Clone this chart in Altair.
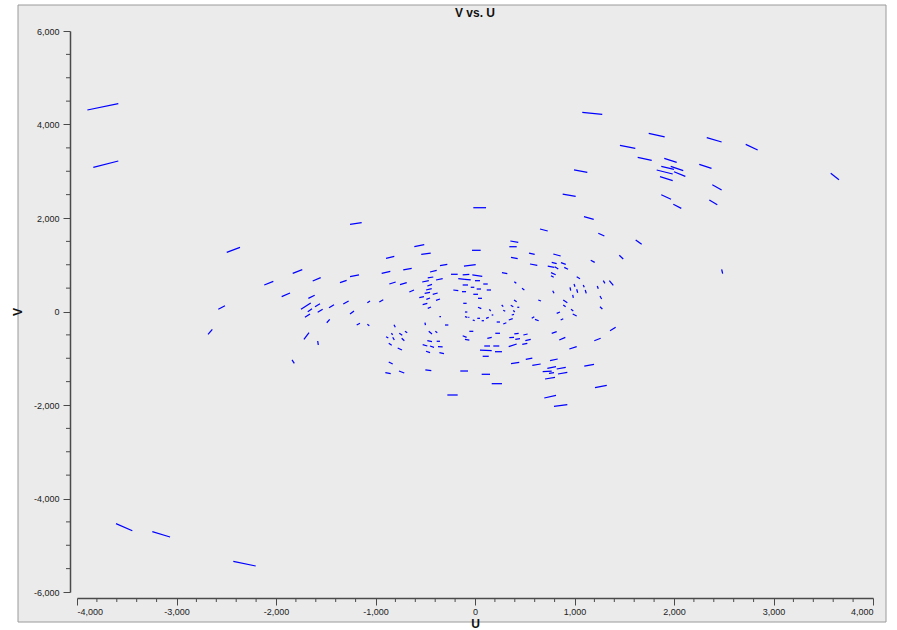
import altair as alt
import pandas as pd

# Baseline track segments in the (U, V) plane: start point (u0, v0) -> end point (u1, v1)
u0 = [-3896, -3836, -3608, -3243, -2429, 1078, 1746, 2329, 2721, 1457, 1635, 1902, 2254, 1872, 1967,
      1826, 2000, 1859, 995, 2385, 3575, 881, 1872, 2355, 1993, 1095, 1239, 1615, 1450, 1163, 2479,
      -17, -1256, -610, 355, 345, 653, -30, -894, -540, 362, 543, 787, -1256, -938, -721, -452, -352,
      -111, 553, 731, 771, 864, 801, 897, 764, 764, 271, 1022, -2495, -1832, -2118, -1631, -1357,
      -1943, -1675, -2580, -1749, -1608, -1681, -1581, -1467, -1324, -1709, -1256, -1490, -2683,
      -1719, -1581, -1839, -1189, -1082, -962, -861, -754, -660, -531, -475, -392, -479, -492, -506,
      -425, -560, -489, -392, -526, -475, -241, -124, -27, -168, -101, 0, 83, -124, -43, 17, 118,
      -218, -131, -17, 30, -118, 30, 144, 268, 359, 425, 284, 385, 392, 636, -101, -101, -67, -23,
      23, 67, 111, 168, 218, 284, 339, 369, 570, 603, -358, -302, -503, -1082, -814, 955, 995, 1022,
      1088, 1108, 1229, 1289, 1350, 1256, 982, 887, 887, 965, 982, 861, 781, 1256, 821, 395, 472,
      -894, -841, -761, -704, -827, -737, -867, -777, -465, -399, -479, -385, -526, -452, -372, -492,
      -358, -867, -901, -764, -499, -148, -278, 67, 168, -124, -101, -57, 124, 204, 93, 184, 50, 201,
      77, 345, 395, 405, 339, 475, 486, 506, 771, 847, 948, 1199, 1357, 362, 510, 576, 754, 727, 821,
      680, 744, 834, 704, 1098, 1206, 696, 794]
v0 = [4310, 3084, -4539, -4710, -5343, 4261, 3812, 3718, 3576, 3555, 3298, 3277, 3149, 3106, 3106,
      3027, 2990, 2883, 3027, 2712, 2956, 2513, 2498, 2385, 2293, 2028, 1673, 1529, 1202, 1095, 903,
      2220, 1865, 1386, 1508, 1386, 1765, 1309, 1138, 1224, 1159, 1251, 1230, 744, 817, 888, 845, 980,
      973, 1016, 973, 1052, 1044, 958, 945, 830, 766, 830, 744, 1266, 817, 567, 652, 616,
      317, 282, 47, 47, 103, -4, -17, 81, 160, -124, -53, -240, -488,
      -595, -631, -1037, -289, 188, 203, 588, 573, 417, 631, 717, 674, 545, 460, 389,
      368, 295, 261, 240, 145, 68, 796, 781, 781, 702, 689, 659, 588, 567, 518, 481, 460,
      460, 424, 368, 282, 175, 90, 47, 139, 133, 90, 26, 26, 246, 246, -11, -111, -124, -182,
      -146, -197, -146, -75, -225, -267, -182, -75, -146, -167, -111, -289, -240, -274, -282, 518, 588, 475,
      567, 460, 545, 659, 659, 332, 353, 246, 139, 47, -53, -182, 445, 103, -39, 637, 496,
      -539, -466, -466, -424, -552, -573, -680, -781, -424, -424, -625, -637, -710, -738, -753, -851,
      -881, -1080, -1309, -1273, -1251, -1273, -1786, -1343, -1544, -518, -595, -424, -573, -466, -738, -738, -824, -860,
      -958, -560, -481, -595, -753, -702, -503, -625, -466, -610, -802, -625, -411, -1117, -1022, -1151, -1052, -1215, -1230,
      -1288, -1322, -1337, -1444, -1166, -1630, -1850, -2028]
u1 = [-3585, -3585, -3444, -3065, -2204, 1279, 1906, 2479, 2841, 1611, 1776, 2027, 2377, 2000, 2093,
      1987, 2114, 1987, 1129, 2479, 3658, 1012, 1970, 2435, 2073, 1193, 1300, 1675, 1490, 1203, 2489,
      111, -1139, -510, 435, 419, 731, 57, -811, -445, 429, 600, 861, -1166, -851, -636, -385, -278,
      7, 626, 797, 821, 912, 837, 935, 811, 791, 325, 1055, -2362, -1736, -2027, -1551, -1290,
      -1859, -1611, -2513, -1651, -1558, -1638, -1531, -1417, -1270, -1658, -1216, -1460, -2640,
      -1668, -1575, -1816, -1156, -1055, -922, -797, -686, -613, -464, -419, -325, -432, -435, -452,
      -375, -513, -452, -352, -479, -442, -174, -57, 73, -101, -43, 50, 128, -70, -7, 60, 161,
      -168, -90, 30, 70, -84, 63, 158, 284, 385, 445, 304, 399, 419, 663, -77, -77, -57, -3,
      50, 90, 138, 184, 251, 315, 379, 392, 596, 640, -342, -268, -498, -1062, -801, 962, 1005, 1032,
      1098, 1118, 1239, 1306, 1390, 1273, 988, 928, 911, 988, 1022, 887, 794, 1280, 854, 415, 496,
      -871, -827, -731, -681, -811, -710, -837, -734, -432, -379, -432, -352, -479, -412, -325, -452,
      -312, -827, -847, -711, -439, -70, -174, 151, 271, -84, -57, -17, 168, 251, 151, 244, 168, 271,
      138, 392, 439, 452, 419, 526, 529, 560, 821, 908, 1022, 1263, 1414, 445, 576, 660, 831, 814, 912,
      771, 794, 928, 804, 1196, 1324, 814, 928]
v1 = [4445, 3219, -4689, -4823, -5444, 4218, 3733, 3626, 3454, 3491, 3234, 3191, 3063, 3042, 3012,
      2941, 2892, 2798, 2978, 2599, 2819, 2464, 2400, 2284, 2207, 1972, 1615, 1437, 1123, 1052, 809,
      2220, 1899, 1429, 1480, 1386, 1722, 1309, 1181, 1251, 1129, 1224, 1187, 781, 860, 924, 881, 1010,
      1001, 988, 945, 1022, 1010, 909, 903, 787, 732, 809, 702, 1373, 894, 646, 723, 667,
      396, 347, 124, 182, 167, 60, 47, 145, 225, -53, 11, -167, -381,
      -453, -717, -1108, -252, 225, 252, 631, 616, 460, 659, 738, 702, 582, 488, 411,
      396, 317, 289, 267, 175, 96, 796, 796, 753, 689, 674, 659, 588, 567, 518, 481, 460,
      445, 424, 368, 282, 175, 60, 11, 103, 103, 90, 4, -11, 210, 225, -11, -124, -124, -197,
      -146, -197, -124, -75, -225, -240, -154, -60, -111, -197, -111, -289, -289, -304, -338, 445, 530, 402,
      518, 389, 488, 603, 560, 267, 289, 188, 103, 11, -96, -154, 389, 53, -11, 603, 460,
      -567, -496, -509, -453, -610, -625, -723, -824, -481, -453, -646, -637, -738, -766, -759, -881,
      -903, -1123, -1330, -1316, -1266, -1273, -1786, -1343, -1544, -552, -610, -424, -552, -466, -738, -738, -838, -860,
      -958, -552, -466, -582, -695, -680, -481, -595, -432, -552, -753, -573, -338, -1087, -995, -1123, -1016, -1181, -1194,
      -1273, -1309, -1301, -1407, -1129, -1579, -1792, -1994]

# Axis tick positions
u_major = list(range(-4000, 4001, 1000))
v_major = list(range(-6000, 6001, 2000))
u_minor = [t for t in range(-4000, 4001, 200) if t % 1000 != 0]
v_minor = [t for t in range(-6000, 6001, 500) if t % 2000 != 0]

FONT = "Liberation Sans"
AXIS_COLOR = "#4a4a4a"
LABEL_EXPR = "datum.value < 0 ? '-' + format(-datum.value, ',') : format(datum.value, ',')"

tracks = pd.DataFrame({"u0": u0, "v0": v0, "u1": u1, "v1": v1})

x_scale = alt.Scale(domain=[-4000, 4000], nice=False, zero=False)
y_scale = alt.Scale(domain=[-6000, 6000], nice=False, zero=False)

# One axis definition per channel, shared by every layer that uses the scale
x_axis = alt.Axis(title="U", values=u_major, orient="bottom", offset=6, tickSize=7,
                  labelPadding=2, labelExpr=LABEL_EXPR, grid=False, titlePadding=2, zindex=1)
y_axis = alt.Axis(title="V", values=v_major, orient="left", offset=7, tickSize=7,
                  labelPadding=4, labelExpr=LABEL_EXPR, grid=False, titlePadding=9, zindex=1)

# Grey panel with a thin frame behind the whole plot
panel = alt.Chart(pd.DataFrame({"k": [0]})).mark_rect(
    fill="#ebebeb", stroke="#9a9a9a", strokeWidth=1
).encode(
    x=alt.value(-59), x2=alt.value(809), y=alt.value(-26), y2=alt.value(591)
)

segments = alt.Chart(tracks).mark_rule(color="#0000ff", strokeWidth=1.25).encode(
    x=alt.X("u0:Q", scale=x_scale, axis=x_axis),
    x2="u1:Q",
    y=alt.Y("v0:Q", scale=y_scale, axis=y_axis),
    y2="v1:Q",
)

x_minor_ticks = alt.Chart(pd.DataFrame({"t": u_minor})).mark_rule(
    color=AXIS_COLOR, strokeWidth=1
).encode(
    x=alt.X("t:Q", scale=x_scale, axis=x_axis),
    y=alt.value(567), y2=alt.value(571),
)

y_minor_ticks = alt.Chart(pd.DataFrame({"t": v_minor})).mark_rule(
    color=AXIS_COLOR, strokeWidth=1
).encode(
    y=alt.Y("t:Q", scale=y_scale, axis=y_axis),
    x=alt.value(-7), x2=alt.value(-11),
)

chart = alt.layer(panel, segments, x_minor_ticks, y_minor_ticks).properties(
    width=796,
    height=561,
    padding={"left": 77, "top": 31, "right": 24, "bottom": 38},
    autosize=alt.AutoSizeParams(type="none"),
    title=alt.TitleParams("V vs. U", font=FONT, fontSize=12, fontWeight="bold",
                          anchor="middle", baseline="bottom", offset=-27, color="#111"),
    background="white",
).configure_view(stroke=None).configure_axis(
    labelFont=FONT, labelFontSize=9, labelColor="#222",
    titleFont=FONT, titleFontSize=12, titleFontWeight="bold", titleColor="#111",
    domainColor=AXIS_COLOR, domainWidth=1.5, tickColor=AXIS_COLOR, tickWidth=1,
)

chart.save("out.html", embed_options={"renderer": "svg", "actions": False})
